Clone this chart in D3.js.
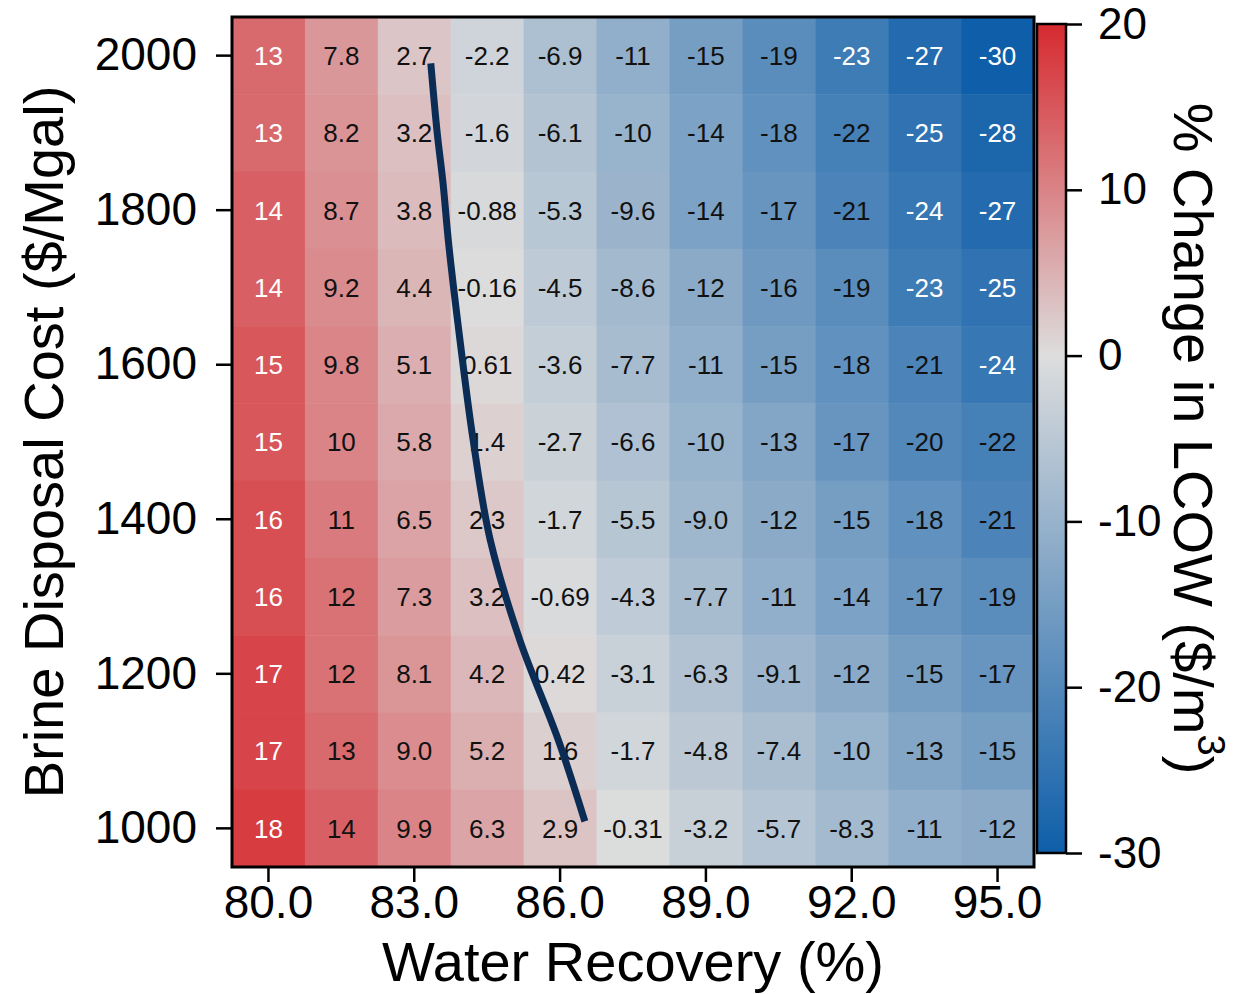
<!DOCTYPE html>
<html>
<head>
<meta charset="utf-8">
<script src="https://cdn.jsdelivr.net/npm/d3@7"></script>
<style>
  body{margin:0;background:#fff;}
  text{font-family:"Liberation Sans", Arial, sans-serif;}
</style>
</head>
<body>
<div id="container"></div>
<script>
let w = 1248;
let h = 994;

// water recovery (%) columns, brine disposal cost ($/Mgal) rows (top -> bottom)
let recovery = [80.0, 81.5, 83.0, 84.5, 86.0, 87.5, 89.0, 90.5, 92.0, 93.5, 95.0];
let disposalCost = [2000, 1900, 1800, 1700, 1600, 1500, 1400, 1300, 1200, 1100, 1000];

// % change in LCOW, one row per disposal cost
let lcowChange = [
  [13, 7.8, 2.7, -2.2, -6.9, -11, -15, -19, -23, -27, -30],
  [13, 8.2, 3.2, -1.6, -6.1, -10, -14, -18, -22, -25, -28],
  [14, 8.7, 3.8, -0.88, -5.3, -9.6, -14, -17, -21, -24, -27],
  [14, 9.2, 4.4, -0.16, -4.5, -8.6, -12, -16, -19, -23, -25],
  [15, 9.8, 5.1, 0.61, -3.6, -7.7, -11, -15, -18, -21, -24],
  [15, 10, 5.8, 1.4, -2.7, -6.6, -10, -13, -17, -20, -22],
  [16, 11, 6.5, 2.3, -1.7, -5.5, -9.0, -12, -15, -18, -21],
  [16, 12, 7.3, 3.2, -0.69, -4.3, -7.7, -11, -14, -17, -19],
  [17, 12, 8.1, 4.2, 0.42, -3.1, -6.3, -9.1, -12, -15, -17],
  [17, 13, 9.0, 5.2, 1.6, -1.7, -4.8, -7.4, -10, -13, -15],
  [18, 14, 9.9, 6.3, 2.9, -0.31, -3.2, -5.7, -8.3, -11, -12]
];

let xTicks = [80.0, 83.0, 86.0, 89.0, 92.0, 95.0];
let yTicks = [2000, 1800, 1600, 1400, 1200, 1000];
let cbarTicks = [20, 10, 0, -10, -20, -30];

// break-even line
let lineRecovery = [83.34, 83.47, 83.59, 83.71, 83.94, 84.21, 84.56, 85.17, 85.96, 86.51];
let lineCost = [1990, 1901, 1836, 1755, 1632, 1503, 1374, 1244, 1115, 1009];

// plain hyphen for negatives, like the original
let locale = d3.formatLocale({decimal: ".", thousands: ",", grouping: [3], currency: ["$", ""], minus: "-"});

let viz = d3.select("#container")
  .append("svg")
    .attr("width", w)
    .attr("height", h)
    .style("background-color", "white")
;

let pLeft = 232, pRight = 1034, pTop = 17, pBottom = 867;

let x = d3.scaleBand().domain(recovery).range([pLeft, pRight]);
let y = d3.scaleBand().domain(disposalCost).range([pTop, pBottom]);

// continuous versions of the same axes for the line
let xLin = d3.scaleLinear().domain([79.25, 95.75]).range([pLeft, pRight]);
let yLin = d3.scaleLinear().domain([2050, 950]).range([pTop, pBottom]);

let color = d3.scaleLinear()
  .domain([-30, 0, 20])
  .range(["#0e5ea9", "#dddddd", "#d62a30"])
  .interpolate(d3.interpolateRgb)
;

function fmt(v){
  let a = Math.abs(v);
  if(a >= 10) return locale.format(".0f")(v);
  if(a >= 1) return locale.format(".1f")(v);
  return locale.format(".2f")(v);
}

let cells = [];
lcowChange.forEach(function(row, i){
  row.forEach(function(v, j){
    cells.push({cost: disposalCost[i], rec: recovery[j], value: v, col: j});
  });
});

let cellGroup = viz.append("g").attr("class", "cells");

cellGroup.selectAll("rect").data(cells).enter()
  .append("rect")
    .attr("x", d => x(d.rec))
    .attr("y", d => y(d.cost))
    .attr("width", x.bandwidth() + 0.5)
    .attr("height", y.bandwidth() + 0.5)
    .attr("fill", d => color(d.value))
;

cellGroup.selectAll("text").data(cells).enter()
  .append("text")
    .attr("x", d => x(d.rec) + x.bandwidth() / 2)
    .attr("y", d => y(d.cost) + y.bandwidth() / 2)
    .attr("dy", "0.36em")
    .attr("text-anchor", "middle")
    .attr("font-size", 26)
    .attr("fill", function(d){
      // first column and darkest blues get white labels
      if(d.col == 0 || d.value < -22.5) return "white";
      return "#111";
    })
    .text(d => fmt(d.value))
;

// break-even line
let linePts = lineRecovery.map((r, i) => [r, lineCost[i]]);
viz.append("path")
  .datum(linePts)
  .attr("d", d3.line().x(d => xLin(d[0])).y(d => yLin(d[1])).curve(d3.curveCatmullRom))
  .attr("fill", "none")
  .attr("stroke", "#0b2d55")
  .attr("stroke-width", 7)
;

// frame
viz.append("rect")
  .attr("x", pLeft).attr("y", pTop)
  .attr("width", pRight - pLeft).attr("height", pBottom - pTop)
  .attr("fill", "none")
  .attr("stroke", "black")
  .attr("stroke-width", 3)
;

// axes
let xAxis = viz.append("g")
  .attr("transform", "translate(0," + pBottom + ")")
  .call(d3.axisBottom(x).tickValues(xTicks).tickFormat(locale.format(".1f")).tickSize(15).tickPadding(3))
;
let yAxis = viz.append("g")
  .attr("transform", "translate(" + pLeft + ",0)")
  .call(d3.axisLeft(y).tickValues(yTicks).tickSize(16).tickPadding(19))
;
[xAxis, yAxis].forEach(function(a){
  a.select(".domain").remove();
  a.selectAll(".tick line").attr("stroke", "black").attr("stroke-width", 2.5);
  a.selectAll(".tick text").attr("font-size", 46).attr("fill", "black")
    .style("font-family", "'Liberation Sans', Arial, sans-serif");
});

viz.append("text")
  .attr("x", (pLeft + pRight) / 2)
  .attr("y", 981)
  .attr("text-anchor", "middle")
  .attr("font-size", 56)
  .text("Water Recovery (%)")
;

viz.append("text")
  .attr("transform", "translate(63," + (pTop + pBottom) / 2 + ") rotate(-90)")
  .attr("text-anchor", "middle")
  .attr("font-size", 56)
  .text("Brine Disposal Cost ($/Mgal)")
;

// colorbar
let cbX = 1037, cbW = 29, cbTop = 24, cbBottom = 853;
let cbScale = d3.scaleLinear().domain([20, -30]).range([cbTop, cbBottom]);

let grad = viz.append("defs").append("linearGradient")
  .attr("id", "cbar")
  .attr("x1", 0).attr("y1", 0).attr("x2", 0).attr("y2", 1)
;
[20, 0, -30].forEach(function(v){
  grad.append("stop")
    .attr("offset", (20 - v) / 50)
    .attr("stop-color", color(v));
});

viz.append("rect")
  .attr("x", cbX).attr("y", cbTop)
  .attr("width", cbW).attr("height", cbBottom - cbTop)
  .attr("fill", "url(#cbar)")
  .attr("stroke", "black")
  .attr("stroke-width", 2.5)
;

let cAxis = viz.append("g")
  .attr("transform", "translate(" + (cbX + cbW) + ",0)")
  .call(d3.axisRight(cbScale).tickValues(cbarTicks).tickFormat(locale.format("d")).tickSize(16).tickPadding(16))
;
cAxis.select(".domain").remove();
cAxis.selectAll(".tick line").attr("stroke", "black").attr("stroke-width", 2.5);
cAxis.selectAll(".tick text").attr("font-size", 44).attr("fill", "black")
  .style("font-family", "'Liberation Sans', Arial, sans-serif");

let cLabel = viz.append("text")
  .attr("transform", "translate(1174," + (cbTop + cbBottom) / 2 + ") rotate(90)")
  .attr("text-anchor", "middle")
  .attr("font-size", 56)
;
cLabel.append("tspan").text("% Change in LCOW ($/m");
cLabel.append("tspan").attr("dy", -24).attr("font-size", 38).text("3");
cLabel.append("tspan").attr("dy", 24).text(")");
</script>
</body>
</html>
